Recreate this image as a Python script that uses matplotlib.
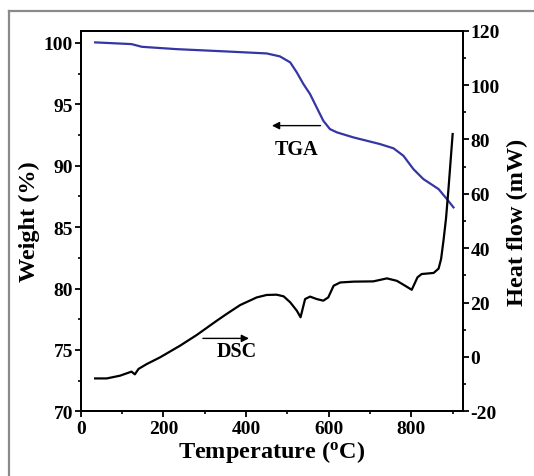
import matplotlib
matplotlib.use("Agg")
import matplotlib.pyplot as plt
from matplotlib.lines import Line2D
from matplotlib.ticker import MultipleLocator

plt.rcParams['font.family'] = ['Liberation Serif', 'DejaVu Serif']
plt.rcParams['font.weight'] = 'bold'
plt.rcParams['mathtext.fontset'] = 'custom'
plt.rcParams['mathtext.rm'] = 'Liberation Serif:bold'
plt.rcParams['mathtext.bf'] = 'Liberation Serif:bold'
plt.rcParams['axes.unicode_minus'] = False

# TGA data (temperature in °C, weight in %)
tga_temp = [35, 123, 148, 232, 353, 450, 482, 507, 523, 539, 555, 571, 587, 603, 620,
            660, 724, 757, 781, 805, 829, 866, 886, 902]
tga_weight = [100.05, 99.91, 99.69, 99.50, 99.31, 99.15, 98.91, 98.42, 97.60, 96.65,
              95.84, 94.75, 93.67, 92.99, 92.72, 92.31, 91.77, 91.42, 90.81, 89.73,
              88.92, 88.10, 87.29, 86.61]

# DSC data (temperature in °C, heat flow in mW)
dsc_temp = [35, 63, 95, 123, 131, 140, 160, 192, 240, 281, 329, 353, 386, 426, 450,
            474, 491, 507, 523, 532, 543, 555, 571, 587, 599, 612, 628, 660, 708,
            741, 765, 785, 801, 815, 825, 854, 866, 872, 878, 884, 890, 895, 900]
dsc_heat = [-7.9, -7.9, -6.9, -5.4, -6.4, -4.4, -2.6, -0.15, 4.1, 8.1, 13.3, 15.8,
            19.1, 21.9, 22.8, 22.9, 22.3, 20.1, 17.0, 14.6, 21.3, 22.2, 21.3, 20.7,
            21.9, 26.2, 27.4, 27.7, 27.8, 28.9, 28.0, 26.2, 24.7, 29.3, 30.5, 30.9,
            32.5, 36.0, 43.0, 51.0, 62.0, 72.0, 82.0]

x_ticks = [0, 200, 400, 600, 800]
left_ticks = [70, 75, 80, 85, 90, 95, 100]
right_ticks = [-20, 0, 20, 40, 60, 80, 100, 120]

fig = plt.figure(figsize=(5.34, 4.77), dpi=100)
ax = fig.add_axes([0.1511, 0.1356, 0.7159, 0.7979])
ax2 = ax.twinx()

ax.plot(tga_temp, tga_weight, color='#3535a5', lw=1.6)
ax2.plot(dsc_temp, dsc_heat, color='black', lw=1.6)

ax.set_xlim(0, 925)
ax.set_ylim(70, 101)
ax2.set_ylim(-20, 120)

ax.set_xticks(x_ticks)
ax.set_yticks(left_ticks)
ax2.set_yticks(right_ticks)
ax.xaxis.set_minor_locator(MultipleLocator(100))
ax.yaxis.set_minor_locator(MultipleLocator(2.5))
ax2.yaxis.set_minor_locator(MultipleLocator(10))

tick_fs = 14
ax.tick_params(axis='x', which='major', direction='out', length=4, width=1.3,
               labelsize=tick_fs, pad=2)
ax.tick_params(axis='x', which='minor', direction='out', length=2.5, width=1.2)
ax.tick_params(axis='y', which='major', direction='out', length=4, width=1.3,
               labelsize=tick_fs, pad=1.5)
ax.tick_params(axis='y', which='minor', direction='out', length=2.5, width=1.2)
ax2.tick_params(axis='y', which='major', direction='out', length=4, width=1.3,
                labelsize=tick_fs, pad=1.5)
ax2.tick_params(axis='y', which='minor', direction='out', length=2.5, width=1.2)
ax2.tick_params(axis='x', which='both', top=True, bottom=False, labeltop=False,
                labelbottom=False, direction='in', width=1.3)
ax2.tick_params(axis='x', which='major', length=4)
ax2.tick_params(axis='x', which='minor', length=3)

for a in (ax, ax2):
    for s in a.spines.values():
        s.set_linewidth(1.4)

ax.set_xlabel('Temperature $\\mathregular{(^{o}C)}$',
              fontsize=17.5, fontweight='bold', labelpad=1)
ax.set_ylabel('Weight (%)', fontsize=17.5, fontweight='bold', labelpad=3)
ax2.set_ylabel('Heat flow (mW)', fontsize=17.5, fontweight='bold', labelpad=5)

# Annotations
ax.annotate('', xy=(456, 93.27), xytext=(587, 93.27),
            arrowprops=dict(arrowstyle='-|>', color='black', lw=1.0,
                            mutation_scale=11))
ax.text(521, 91.4, 'TGA', fontsize=14.5, fontweight='bold', ha='center', va='center')
ax.annotate('', xy=(414, 75.94), xytext=(289, 75.94),
            arrowprops=dict(arrowstyle='-|>', color='black', lw=1.0,
                            mutation_scale=11))
ax.text(378, 74.93, 'DSC', fontsize=14.5, fontweight='bold', ha='center', va='center')

# Figure frame lines (top and left)
fig.add_artist(Line2D([9.3 / 534, 1.0], [1 - 11.7 / 477, 1 - 11.7 / 477],
                      transform=fig.transFigure, color='#8a8a8a', lw=1.6))
fig.add_artist(Line2D([9.3 / 534, 9.3 / 534], [0.0, 1 - 11.7 / 477],
                      transform=fig.transFigure, color='#8a8a8a', lw=1.6))

fig.savefig('out.png', dpi=100)
